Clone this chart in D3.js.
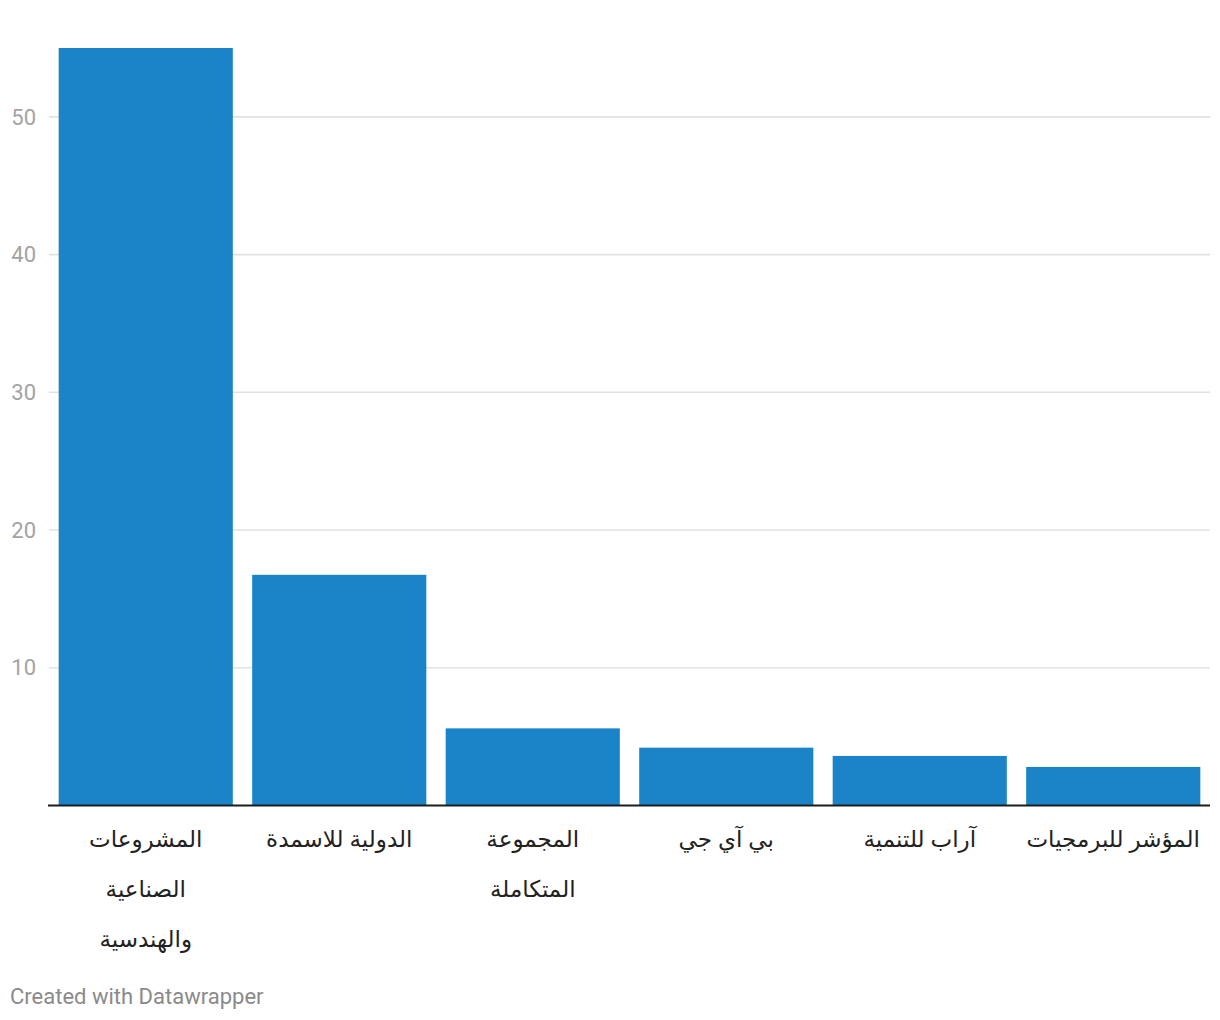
<!DOCTYPE html>
<html>
<head>
<meta charset="utf-8">
<script src="https://cdn.jsdelivr.net/npm/d3@7"></script>
<style>
  html, body { margin: 0; padding: 0; background: #fff; }
  svg { display: block; }
</style>
</head>
<body>
<svg id="chart" width="1220" height="1020"></svg>
<script>
const categories = [
  "المشروعات الصناعية والهندسية",
  "الدولية للاسمدة",
  "المجموعة المتكاملة",
  "بي آي جي",
  "آراب للتنمية",
  "المؤشر للبرمجيات"
];
const values = [55, 16.75, 5.6, 4.2, 3.6, 2.8];
const yTicks = [10, 20, 30, 40, 50];
const footerText = "Created with Datawrapper";

(function () {
const svg = d3.select("#chart");
const mLeft = 49, mRight = 1210, mTop = 48, mBottom = 805.5;

const x = d3.scaleBand().domain(categories).range([mLeft, mRight]).paddingInner(0.1).paddingOuter(0.05);
const y = d3.scaleLinear().domain([0, 55]).range([mBottom, mTop]);

// gridlines
svg.append("g").selectAll("line").data(yTicks).join("line")
  .attr("x1", mLeft).attr("x2", mRight)
  .attr("y1", d => y(d)).attr("y2", d => y(d))
  .attr("stroke", "#e2e2e2").attr("stroke-width", 1.6);

// y labels
svg.append("g").selectAll("text").data(yTicks).join("text")
  .attr("x", 36).attr("y", d => y(d))
  .attr("dy", "0.35em")
  .attr("text-anchor", "end")
  .attr("font-family", "Roboto, sans-serif")
  .attr("font-size", 22)
  .attr("fill", "#a3a3a3")
  .text(d => d);

// bars
svg.append("g").selectAll("rect").data(values).join("rect")
  .attr("x", (d, i) => x(categories[i]))
  .attr("width", x.bandwidth())
  .attr("y", d => y(d))
  .attr("height", d => y(0) - y(d))
  .attr("fill", "#1b83c7");

// baseline
svg.append("line")
  .attr("x1", mLeft - 1).attr("x2", mRight)
  .attr("y1", y(0)).attr("y2", y(0))
  .attr("stroke", "#1d1d1d").attr("stroke-width", 2);

// x labels with wrapping
const labelFont = "'Noto Sans', Roboto, 'DejaVu Sans', sans-serif";
const labelSize = 23;
const measurer = svg.append("text").attr("font-family", labelFont).attr("font-size", labelSize).attr("direction", "rtl").attr("visibility", "hidden");
function wrap(str, maxW) {
  const words = str.split(" ");
  const lines = [];
  let cur = "";
  words.forEach(w => {
    const test = cur ? cur + " " + w : w;
    measurer.text(test);
    if (measurer.node().getComputedTextLength() > maxW && cur) {
      lines.push(cur);
      cur = w;
    } else cur = test;
  });
  if (cur) lines.push(cur);
  return lines;
}
const labels = svg.append("g");
categories.forEach((c, i) => {
  const lines = wrap(c, 177);
  const cx = x(c) + x.bandwidth() / 2;
  lines.forEach((ln, j) => {
    labels.append("text")
      .attr("x", cx).attr("y", 847 + j * 50)
      .attr("text-anchor", "middle")
      .attr("direction", "rtl")
      .attr("font-family", labelFont)
      .attr("font-size", labelSize)
      .attr("fill", "#222")
      .text(ln);
  });
});
measurer.remove();

// footer
svg.append("text")
  .attr("x", 10).attr("y", 1004)
  .attr("font-family", "Roboto, sans-serif")
  .attr("font-size", 22)
  .attr("fill", "#8a8a8a")
  .text(footerText);
})();
</script>
</body>
</html>
